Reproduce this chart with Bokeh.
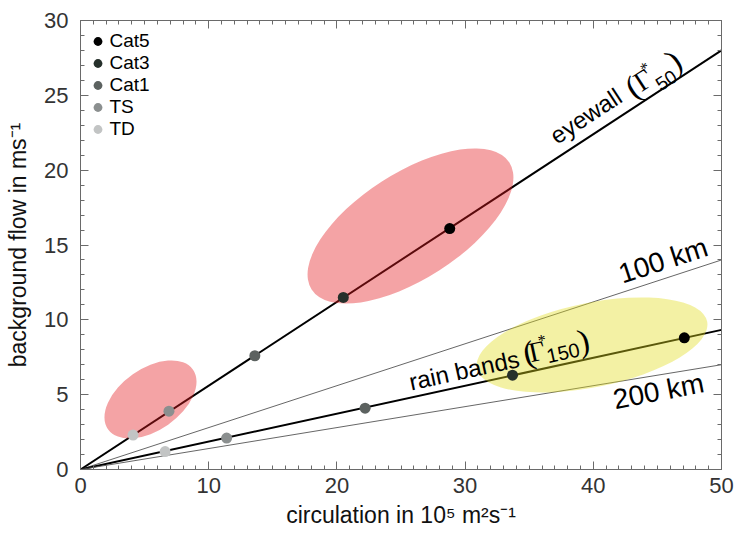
import math

from bokeh.core.properties import value
from bokeh.embed import file_html
from bokeh.models import Legend, LegendItem, LinearAxis, Range1d, SingleIntervalTicker
from bokeh.plotting import figure
from bokeh.resources import INLINE

# Storm categories and their colours
categories = ["Cat5", "Cat3", "Cat1", "TS", "TD"]
category_colors = ["#000000", "#26302b", "#5c6260", "#8b8f8f", "#c2c4c4"]

# Eyewall (r = 50 km) and rain band (r = 150 km) estimates per category
eyewall_circulation = [28.8, 20.5, 13.6, 6.9, 4.1]
eyewall_flow = [16.1, 11.5, 7.6, 3.9, 2.3]
rainband_circulation = [47.1, 33.7, 22.2, 11.4, 6.6]
rainband_flow = [8.8, 6.3, 4.1, 2.1, 1.2]

# Reference radii: background flow reached at the right edge of the axis
radius_km = [50, 100, 150, 200]
flow_at_x_max = [28.0, 14.0, 9.33, 7.0]

# Shaded regions (centre, extent, tilt)
region_x = [25.74, 5.46, 39.9]
region_y = [16.27, 4.68, 8.32]
region_w = [18.33, 8.1, 18.33]
region_h = [7.08, 4.11, 5.64]
region_angle_deg = [32.7, 35.0, 11.5]
region_color = ["#e41a1f", "#e41a1f", "#e2dc1c"]

X_MAX, Y_MAX = 50, 30
W, H = 735, 534
BORDER_L, BORDER_R, BORDER_T, BORDER_B = 80, 14, 20, 65
FRAME_W = W - BORDER_L - BORDER_R
FRAME_H = H - BORDER_T - BORDER_B
PX_X = FRAME_W / X_MAX
PX_Y = FRAME_H / Y_MAX

SANS = "Liberation Sans"
SERIF = "Liberation Serif"

p = figure(
    width=W, height=H,
    x_range=Range1d(0, X_MAX), y_range=Range1d(0, Y_MAX),
    output_backend="svg", toolbar_location=None,
    min_border_left=BORDER_L, min_border_right=BORDER_R,
    min_border_top=BORDER_T, min_border_bottom=BORDER_B,
    x_axis_type=None, y_axis_type=None,
)
p.grid.visible = False
p.outline_line_color = None
p.background_fill_color = "white"
p.border_fill_color = "white"

AXIS_COLOR = "#6a6a6a"


def make_axis(interval, minor, labelled):
    ax = LinearAxis(ticker=SingleIntervalTicker(interval=interval, num_minor_ticks=minor))
    ax.axis_line_color = AXIS_COLOR
    ax.major_tick_line_color = AXIS_COLOR
    ax.minor_tick_line_color = AXIS_COLOR
    ax.major_tick_in = 8
    ax.major_tick_out = 0
    ax.minor_tick_in = 4
    ax.minor_tick_out = 0
    if labelled:
        ax.major_label_text_font = SANS
        ax.major_label_text_font_size = "22px"
        ax.major_label_text_color = "#333333"
        ax.axis_label_text_font = SANS
        ax.axis_label_text_font_size = "23px"
        ax.axis_label_text_font_style = "normal"
        ax.axis_label_text_color = "#111111"
    else:
        # tick marks only on the top and right edges of the box
        ax.major_label_text_color = None
        ax.major_label_text_font_size = "8px"
        ax.major_label_standoff = 0
    return ax


xb = make_axis(10, 10, True)
xb.axis_label = "circulation in 10\u2075 m\u00b2s\u207b\u00b9"
xb.major_label_standoff = 8
xb.axis_label_standoff = 6
p.add_layout(xb, "below")

yl = make_axis(5, 5, True)
yl.axis_label = "background flow in ms\u207b\u00b9"
yl.major_label_standoff = 12
yl.axis_label_standoff = 10
p.add_layout(yl, "left")

p.add_layout(make_axis(10, 10, False), "above")
p.add_layout(make_axis(5, 5, False), "right")

# Lines of constant radius through the origin
for r, f in zip(radius_km, flow_at_x_max):
    thick = r in (50, 150)
    p.line([0, X_MAX], [0, f],
           line_color="#000000" if thick else "#555555",
           line_width=2.0 if thick else 0.9)

# Semi-transparent regions on top of the lines
p.ellipse(x=region_x, y=region_y, width=region_w, height=region_h,
          angle=[math.radians(a) for a in region_angle_deg], fill_color=region_color,
          fill_alpha=0.4, line_color=None)

# Points per category (eyewall and rain band)
legend_items = []
for i, cat in enumerate(categories):
    r = p.scatter([eyewall_circulation[i], rainband_circulation[i]],
                  [eyewall_flow[i], rainband_flow[i]],
                  size=11, fill_color=category_colors[i], line_color=category_colors[i],
                  line_width=0)
    legend_items.append(LegendItem(label=cat, renderers=[r]))

legend = Legend(items=legend_items, location=(4.5, 329))
legend.glyph_width = 25
legend.glyph_height = 22
legend.label_height = 22
legend.spacing = 0
legend.padding = 0
legend.margin = 0
legend.label_standoff = 0
legend.label_text_font = SANS
legend.label_text_font_size = "19px"
legend.label_text_color = "#000000"
legend.border_line_alpha = 0
legend.background_fill_alpha = 0
p.add_layout(legend)


def screen_angle(f):
    return math.atan((f / X_MAX) * PX_Y / PX_X)


def rotated_label(x_anchor, f, pieces, angle=None):
    """Draw text pieces along a line y = (f / X_MAX) * x, offset in pixels
    along the line and perpendicular to it."""
    a = screen_angle(f) if angle is None else angle
    ca, sa = math.cos(a), math.sin(a)
    y_anchor = f / X_MAX * x_anchor
    for text, along, perp, font, size in pieces:
        lift = 0.27 * size  # baseline correction for the text box
        p.text(x=[x_anchor], y=[y_anchor], text=[text],
               x_offset=along * ca - perp * sa,
               y_offset=-along * sa - perp * ca - lift,
               angle=a, text_font=value(font), text_font_size=f"{size}px",
               text_align="left", text_baseline="alphabetic", text_color="#000000")


rotated_label(37.4, flow_at_x_max[0], [
    ("eyewall", 0, 14, SANS, 24),
    ("(", 88, 10, SERIF, 33),
    ("\u0393", 99, 12, SERIF, 28),
    ("*", 113, 24, SERIF, 16),
    ("50", 117, 1, SANS, 19),
    (")", 137, 10, SERIF, 33),
])

rotated_label(25.8, flow_at_x_max[2], [
    ("rain bands", 0, 9, SANS, 24),
    ("(", 117, 10, SERIF, 33),
    ("\u0393", 123, 11, SERIF, 28),
    ("*", 135, 24, SERIF, 16),
    ("150", 140, 6, SANS, 20),
    (")", 173, 10, SERIF, 33),
])

rotated_label(42.3, flow_at_x_max[1], [("100 km", 0, 10.5, SANS, 28)])
rotated_label(41.2, flow_at_x_max[3], [("200 km", 0, -24.8, SANS, 28)],
              angle=math.radians(11))

open("out.html", "w").write(file_html(p, INLINE))
